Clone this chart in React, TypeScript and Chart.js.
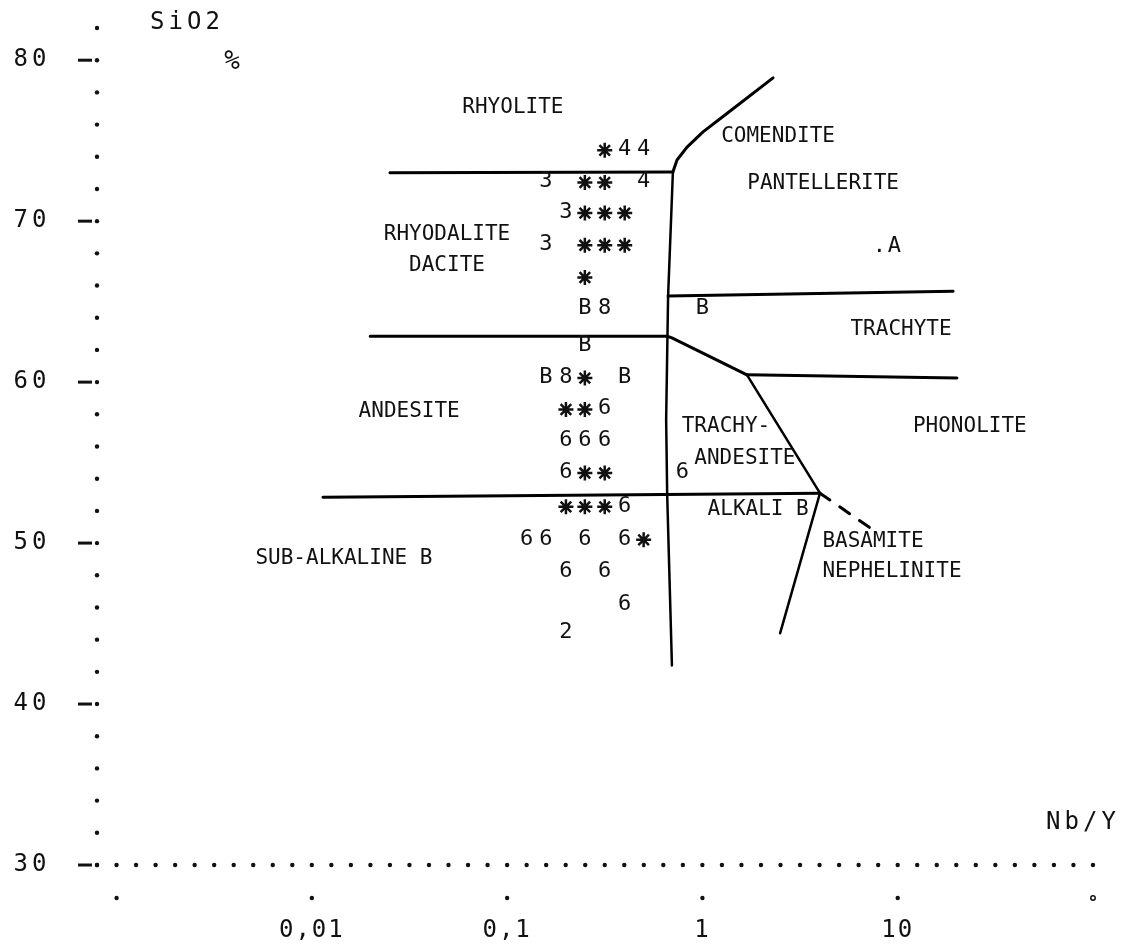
import React, { useEffect, useRef } from "react";
import { Chart, registerables } from "chart.js";

Chart.register(...registerables);

// ---------- axes ----------
const X_MIN = 0.000794; // 10^-3.1
const X_MAX = 100;
const Y_MIN = 30;
const Y_MAX = 82;
const Y_TICKS = [30, 40, 50, 60, 70, 80];
const X_TICKS = [0.001, 0.01, 0.1, 1, 10, 100];
const X_TICK_LABELS = ["", "0,01", "0,1", "1", "10", ""];
const X_TITLE = "Nb/Y";
const Y_TITLE = "SiO2";
const Y_UNIT = "%";

// ---------- samples (printer symbols) ----------
const STAR_X = [0.316, 0.25, 0.316, 0.25, 0.316, 0.4, 0.25, 0.316, 0.4, 0.25, 0.25, 0.2, 0.25, 0.25, 0.316, 0.2, 0.25, 0.316, 0.5];
const STAR_Y = [74.4, 72.4, 72.4, 70.5, 70.5, 70.5, 68.5, 68.5, 68.5, 66.5, 60.25, 58.3, 58.3, 54.35, 54.35, 52.25, 52.25, 52.25, 50.2];
const FOUR_X = [0.4, 0.5, 0.5];
const FOUR_Y = [74.4, 74.4, 72.4];
const THREE_X = [0.158, 0.2, 0.158];
const THREE_Y = [72.4, 70.5, 68.5];
const B_X = [0.25, 1.0, 0.25, 0.158, 0.4];
const B_Y = [64.5, 64.5, 62.2, 60.25, 60.25];
const EIGHT_X = [0.316, 0.2];
const EIGHT_Y = [64.5, 60.25];
const SIX_X = [0.316, 0.2, 0.25, 0.316, 0.2, 0.79, 0.4, 0.126, 0.158, 0.25, 0.4, 0.2, 0.316, 0.4];
const SIX_Y = [58.3, 56.3, 56.3, 56.3, 54.35, 54.35, 52.25, 50.2, 50.2, 50.2, 50.2, 48.2, 48.2, 46.15];
const TWO_X = [0.2];
const TWO_Y = [44.4];
const A_X = [9.6];
const A_Y = [68.4];

// ---------- field boundaries ----------
const RHYOLITE_X = [0.0251, 0.706];
const RHYOLITE_Y = [73.0, 73.05];
const COMENDITE_X = [0.706, 0.741, 0.834, 1.007, 1.34, 2.3];
const COMENDITE_Y = [73.05, 73.8, 74.6, 75.55, 76.7, 78.9];
const VERTICAL_X = [0.706, 0.667, 0.652, 0.66, 0.698];
const VERTICAL_Y = [73.05, 65.3, 57.65, 53.0, 42.4];
const TRACHYTE_X = [0.667, 19.2];
const TRACHYTE_Y = [65.35, 65.65];
const ANDESITE_X = [0.0199, 0.66, 0.698, 1.69];
const ANDESITE_Y = [62.85, 62.85, 62.75, 60.45];
const PHONOLITE_X = [1.69, 20.1];
const PHONOLITE_Y = [60.45, 60.25];
const TRACHYAND_X = [1.69, 4.0];
const TRACHYAND_Y = [60.45, 53.1];
const BASALT_X = [0.0114, 4.0];
const BASALT_Y = [52.85, 53.1];
const BASANITE_X = [4.0, 2.5];
const BASANITE_Y = [53.1, 44.4];
const DASHED_X = [4.0, 7.21];
const DASHED_Y = [53.1, 50.95];

// ---------- field names ----------
const FIELD_NAMES = ["RHYOLITE", "COMENDITE", "PANTELLERITE", "RHYODALITE", "DACITE", "ANDESITE", "SUB-ALKALINE B", "TRACHYTE", "TRACHY-", "ANDESITE", "PHONOLITE", "ALKALI B", "BASAMITE", "NEPHELINITE"];
const FIELD_X = [0.107, 2.44, 4.15, 0.0492, 0.0492, 0.0315, 0.0146, 10.4, 1.32, 1.65, 23.4, 1.93, 7.47, 9.35];
const FIELD_Y = [77.0, 75.2, 72.25, 69.1, 67.2, 58.1, 48.95, 63.2, 57.2, 55.2, 57.2, 52.05, 50.05, 48.15];

const toPts = (xs: number[], ys: number[]) => xs.map((x, i) => ({ x, y: ys[i] }));

const lineDs = (xs: number[], ys: number[], dash: number[] = [], width = 3) => ({
  type: "scatter" as const,
  data: toPts(xs, ys),
  showLine: true,
  borderColor: "#000",
  borderWidth: width,
  borderDash: dash,
  borderCapStyle: "round" as const,
  borderJoinStyle: "round" as const,
  pointRadius: 0,
  tension: 0,
  fill: false,
});

const charDs = (xs: number[], ys: number[], ch: string) => ({
  type: "scatter" as const,
  data: toPts(xs, ys),
  pointRadius: 0,
  showLine: false,
  char: ch,
});

const MONO = '"DejaVu Sans Mono", "Liberation Mono", monospace';

const decor = {
  id: "decor",
  afterDatasetsDraw(chart: any) {
    const ctx: CanvasRenderingContext2D = chart.ctx;
    const xs = chart.scales.x;
    const ys = chart.scales.y;
    const { left, right, top, bottom } = chart.chartArea;
    ctx.save();
    ctx.fillStyle = "#111";
    ctx.strokeStyle = "#111";

    // symbol characters
    ctx.font = `22px ${MONO}`;
    ctx.textAlign = "center";
    ctx.textBaseline = "middle";
    chart.data.datasets.forEach((ds: any, i: number) => {
      if (!ds.char) return;
      const meta = chart.getDatasetMeta(i);
      meta.data.forEach((el: any) => {
        ctx.fillText(ds.char, el.x, el.y - 1);
        if (ds.char === "A") {
          ctx.fillText(".", el.x - 15, el.y - 1);
        }
      });
    });

    // field names
    ctx.font = `21px ${MONO}`;
    FIELD_NAMES.forEach((n, i) => {
      ctx.fillText(n, xs.getPixelForValue(FIELD_X[i]), ys.getPixelForValue(FIELD_Y[i]) - 1);
    });

    // dotted y axis
    for (let v = Y_MIN; v <= Y_MAX + 0.001; v += 2) {
      ctx.beginPath();
      ctx.arc(left, ys.getPixelForValue(v), 2.2, 0, Math.PI * 2);
      ctx.fill();
    }
    // dotted x axis (every tenth of a decade)
    const lmin = Math.log10(X_MIN);
    const lmax = Math.log10(X_MAX);
    for (let l = lmin; l <= lmax + 0.001; l += 0.1) {
      ctx.beginPath();
      ctx.arc(xs.getPixelForValue(Math.pow(10, l)), bottom, 2.2, 0, Math.PI * 2);
      ctx.fill();
    }

    // y ticks
    ctx.font = `24px ${MONO}`;
    (ctx as any).letterSpacing = "4px";
    Y_TICKS.forEach((t) => {
      const py = ys.getPixelForValue(t);
      ctx.fillText(String(t), left - 65, py);
      ctx.lineWidth = 3;
      ctx.beginPath();
      ctx.moveTo(left - 19, py);
      ctx.lineTo(left - 5, py);
      ctx.stroke();
    });

    // x ticks
    (ctx as any).letterSpacing = "2px";
    X_TICKS.forEach((t, i) => {
      const px = xs.getPixelForValue(t);
      ctx.beginPath();
      if (i === X_TICKS.length - 1) {
        ctx.lineWidth = 1.5;
        ctx.arc(px, bottom + 33, 2.2, 0, Math.PI * 2);
        ctx.stroke();
      } else {
        ctx.arc(px, bottom + 33, 2.2, 0, Math.PI * 2);
        ctx.fill();
      }
      if (X_TICK_LABELS[i]) ctx.fillText(X_TICK_LABELS[i], px, bottom + 66);
    });

    // titles
    (ctx as any).letterSpacing = "4px";
    ctx.font = `24px ${MONO}`;
    ctx.fillText(Y_TITLE, left + 90, top - 5);
    (ctx as any).letterSpacing = "0px";
    ctx.font = `26px ${MONO}`;
    ctx.fillText(Y_UNIT, left + 135, top + 34);
    (ctx as any).letterSpacing = "4px";
    ctx.font = `24px ${MONO}`;
    ctx.fillText(X_TITLE, right - 10, bottom - 42);
    ctx.restore();
  },
};

export default function App() {
  const ref = useRef<HTMLCanvasElement>(null);
  useEffect(() => {
    const chart = new Chart(ref.current as HTMLCanvasElement, {
      type: "scatter",
      data: {
        datasets: [
          lineDs(RHYOLITE_X, RHYOLITE_Y),
          lineDs(COMENDITE_X, COMENDITE_Y),
          lineDs(VERTICAL_X, VERTICAL_Y, [], 2.5),
          lineDs(TRACHYTE_X, TRACHYTE_Y),
          lineDs(ANDESITE_X, ANDESITE_Y),
          lineDs(PHONOLITE_X, PHONOLITE_Y),
          lineDs(TRACHYAND_X, TRACHYAND_Y, [], 2.5),
          lineDs(BASALT_X, BASALT_Y),
          lineDs(BASANITE_X, BASANITE_Y, [], 2.5),
          lineDs(DASHED_X, DASHED_Y, [12, 12]),
          {
            type: "scatter",
            data: toPts(STAR_X, STAR_Y),
            pointStyle: "star",
            pointRadius: 7.5,
            borderWidth: 2.5,
            borderColor: "#111",
            backgroundColor: "#111",
            showLine: false,
          },
          charDs(FOUR_X, FOUR_Y, "4"),
          charDs(THREE_X, THREE_Y, "3"),
          charDs(B_X, B_Y, "B"),
          charDs(EIGHT_X, EIGHT_Y, "8"),
          charDs(SIX_X, SIX_Y, "6"),
          charDs(TWO_X, TWO_Y, "2"),
          charDs(A_X, A_Y, "A"),
        ] as any,
      },
      options: {
        animation: false,
        responsive: false,
        events: [],
        layout: { padding: { left: 97, right: 33, top: 28, bottom: 79 } },
        scales: {
          x: { type: "logarithmic", min: X_MIN, max: X_MAX, display: false, bounds: "data" },
          y: { type: "linear", min: Y_MIN, max: Y_MAX, display: false },
        },
        plugins: { legend: { display: false }, tooltip: { enabled: false } },
      },
      plugins: [decor],
    } as any);
    return () => chart.destroy();
  }, []);
  return (
    <div style={{ position: "fixed", left: 0, top: 0, width: 1126, height: 944, background: "#fff" }}>
      <canvas ref={ref} width={1126} height={944} style={{ display: "block", width: 1126, height: 944 }} />
    </div>
  );
}
